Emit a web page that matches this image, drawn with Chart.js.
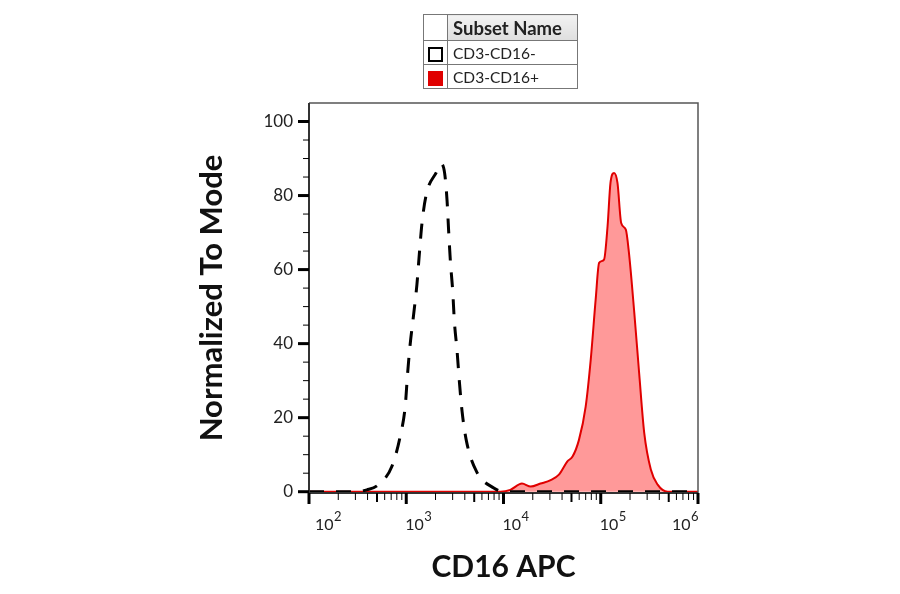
<!DOCTYPE html>
<html>
<head>
<meta charset="utf-8">
<script src="https://cdn.jsdelivr.net/npm/chart.js@4.4.0/dist/chart.umd.min.js"></script>
<style>
  body { margin: 0; background: #fff; font-family: Lato, sans-serif; }
  #wrap { position: relative; width: 900px; height: 594px; }
  #legend {
    position: absolute; left: 423px; top: 14px;
    border-collapse: collapse; color: #222;
  }
  #legend td { border: 1px solid #777; padding: 0 5px; }
  #legend td.key { width: 10px; padding: 0 4px; text-align: center; }
  #legend tr.head td { height: 25px; font-weight: bold; font-size: 18.5px; }
  #legend tr.head td.name { background: linear-gradient(#f2f2f2, #dedede); width: 119px; }
  #legend tr.row td { height: 23px; font-size: 15.5px; }
  .swatch { display: inline-block; width: 11px; height: 11px; vertical-align: middle; }
  .neg { border: 2px solid #000; background: #fff; }
  .pos { border: 2px solid #e00000; background: #e00000; }
</style>
</head>
<body>
<div id="wrap">
  <canvas id="chart" width="900" height="594"></canvas>
  <table id="legend">
    <tr class="head"><td class="key"></td><td class="name">Subset Name</td></tr>
    <tr class="row"><td class="key"><span class="swatch neg"></span></td><td id="lab0"></td></tr>
    <tr class="row"><td class="key"><span class="swatch pos"></span></td><td id="lab1"></td></tr>
  </table>
</div>
<script>
// Subsets
const subsets = ["CD3-CD16-", "CD3-CD16+"];

// CD3-CD16- histogram (intensity, % of mode)
const negIntensity = [100, 300, 394, 518, 711, 867, 977, 1030, 1096, 1189, 1288, 1361, 1452, 1607,
  2042, 2280, 2483, 2630, 2729, 2844, 3006, 3126, 3334, 3516, 3750, 4150, 5272, 7943, 10000, 1000000];
const negMode = [0, 0, 0.5, 1.9, 6.8, 15, 23.2, 31.6, 39.7, 47.7, 56, 64, 72.6, 80.3,
  86.3, 88.6, 86, 78.5, 70.4, 62.2, 54.1, 46, 37.9, 29.8, 21.7, 13.8, 5.5, 1, 0, 0];

// CD3-CD16+ histogram
const posIntensity = [100, 9333, 11750, 15490, 19050, 23990, 30550, 37150, 45390, 51290, 59700,
  69980, 78890, 88720, 96160, 108100, 117500, 125900, 137100, 148600, 162200, 181100, 195000,
  221300, 248300, 279900, 327300, 384600, 489800, 1000000];
const posMode = [0, 0, 0.5, 2.2, 1.4, 2.2, 3.1, 4.6, 8.2, 9.5, 14,
  23, 35.7, 52, 61.8, 62.7, 71.7, 83.4, 86.1, 83.4, 72.6, 70.8, 64.5,
  48.3, 32, 15.9, 6, 1.9, 0, 0];

// Axis ticks
const yTicks = [0, 5, 10, 15, 20, 25, 30, 35, 40, 45, 50, 55, 60, 65, 70, 75, 80, 85, 90, 95, 100];
const yLabelEvery = 20;
const xDecades = [2, 3, 4, 5, 6];

document.getElementById("lab0").textContent = subsets[0];
document.getElementById("lab1").textContent = subsets[1];

const toPoints = (xs, ys) => xs.map((x, i) => ({ x: x, y: ys[i] }));

// Frame, tick marks and x labels
const axisDecor = {
  id: "axisDecor",
  afterDraw(chart) {
    const { ctx, chartArea: a, scales: { x, y } } = chart;
    ctx.save();
    // top / right border
    ctx.strokeStyle = "#555";
    ctx.lineWidth = 1.5;
    ctx.beginPath();
    ctx.moveTo(a.left, a.top);
    ctx.lineTo(a.right, a.top);
    ctx.lineTo(a.right, a.bottom);
    ctx.stroke();
    // axis lines
    ctx.strokeStyle = "#333";
    ctx.lineWidth = 2;
    ctx.beginPath();
    ctx.moveTo(a.left, a.top);
    ctx.lineTo(a.left, a.bottom);
    ctx.lineTo(a.right, a.bottom);
    ctx.stroke();

    ctx.strokeStyle = "#000";
    // y ticks
    yTicks.forEach(v => {
      const py = y.getPixelForValue(v);
      const major = v % yLabelEvery === 0;
      ctx.lineWidth = major ? 3 : 1;
      ctx.beginPath();
      ctx.moveTo(a.left - (major ? 11 : 6), py);
      ctx.lineTo(a.left, py);
      ctx.stroke();
    });
    // x ticks
    xDecades.forEach((d, i) => {
      const base = Math.pow(10, d);
      const px = x.getPixelForValue(base);
      ctx.lineWidth = 3;
      ctx.beginPath();
      ctx.moveTo(px, a.bottom);
      ctx.lineTo(px, a.bottom + 11);
      ctx.stroke();
      if (i < xDecades.length - 1) {
        for (let k = 2; k <= 9; k++) {
          const mx = x.getPixelForValue(k * base);
          ctx.lineWidth = k === 5 ? 2 : 1;
          ctx.beginPath();
          ctx.moveTo(mx, a.bottom);
          ctx.lineTo(mx, a.bottom + (k === 5 ? 9 : 7));
          ctx.stroke();
        }
      }
    });
    // x labels: 10 with superscript exponent
    ctx.fillStyle = "#222";
    ctx.textBaseline = "alphabetic";
    xDecades.forEach((d, i) => {
      const px = x.getPixelForValue(Math.pow(10, d));
      ctx.font = "16px Lato";
      const wBase = ctx.measureText("10").width;
      ctx.font = "13px Lato";
      const wExp = ctx.measureText(String(d)).width;
      let left = px - 1;
      if (i === 0) left = px + 6;
      if (i === xDecades.length - 1) left = px - wBase - wExp;
      ctx.font = "16px Lato";
      ctx.textAlign = "left";
      ctx.fillText("10", left, 530);
      ctx.font = "13px Lato";
      ctx.fillText(String(d), left + wBase + 0.5, 521);
    });
    ctx.restore();
  }
};

new Chart(document.getElementById("chart"), {
  type: "line",
  data: {
    datasets: [
      {
        label: subsets[0],
        data: toPoints(negIntensity, negMode),
        borderColor: "#000",
        borderWidth: 3,
        borderDash: [15, 12],
        fill: false,
        pointRadius: 0,
        cubicInterpolationMode: "monotone"
      },
      {
        label: subsets[1],
        data: toPoints(posIntensity, posMode),
        borderColor: "#e00000",
        borderWidth: 2,
        backgroundColor: "rgba(255, 0, 0, 0.4)",
        fill: "origin",
        pointRadius: 0,
        cubicInterpolationMode: "monotone"
      }
    ]
  },
  options: {
    responsive: false,
    animation: false,
    layout: { padding: { left: 193, right: 202, top: 103, bottom: 9 } },
    plugins: {
      legend: { display: false },
      tooltip: { enabled: false }
    },
    scales: {
      x: {
        type: "logarithmic",
        min: 100,
        max: 1000000,
        grid: { display: false, drawTicks: false },
        border: { display: false },
        ticks: { display: false },
        title: {
          display: true,
          text: "CD16 APC",
          color: "#111",
          padding: 0,
          font: { family: "Lato", size: 30, weight: "bold" }
        },
        afterFit: s => { s.height = 92; }
      },
      y: {
        min: -0.35,
        max: 105,
        grid: { display: false, drawTicks: false },
        border: { display: false },
        afterBuildTicks: s => { s.ticks = yTicks.map(v => ({ value: v })); },
        ticks: {
          padding: 16,
          color: "#222",
          font: { family: "Lato", size: 17 },
          callback: v => (v % yLabelEvery === 0 ? String(v) : "")
        },
        title: {
          display: true,
          text: "Normalized To Mode",
          color: "#111",
          padding: 0,
          font: { family: "Lato", size: 31, weight: "bold" }
        },
        afterFit: s => { s.width = 116; }
      }
    }
  },
  plugins: [axisDecor]
});
</script>
</body>
</html>
